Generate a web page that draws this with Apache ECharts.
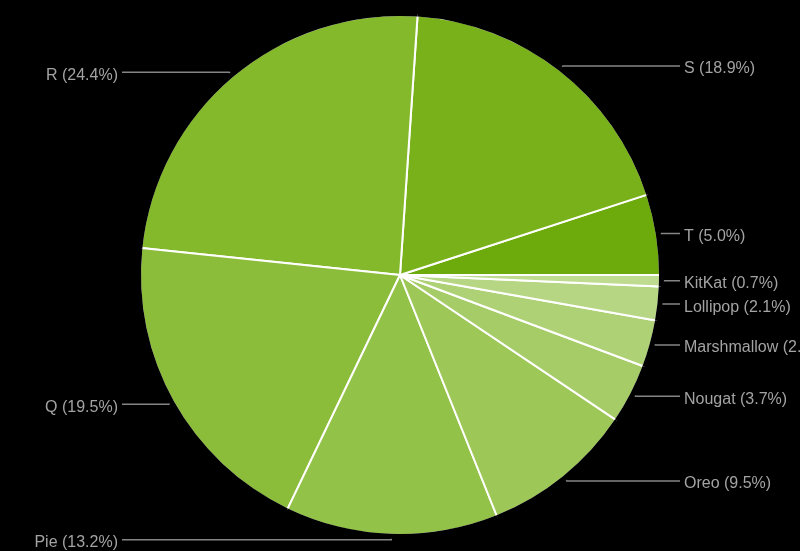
<!DOCTYPE html>
<html>
<head>
<meta charset="utf-8">
<script src="https://cdn.jsdelivr.net/npm/echarts@6/dist/echarts.min.js"></script>
<style>
html,body{margin:0;padding:0;background:#000;}
#chart{width:800px;height:551px;}
</style>
</head>
<body>
<div id="chart"></div>
<script>
var categories = ['T', 'S', 'R', 'Q', 'Pie', 'Oreo', 'Nougat', 'Marshmallow', 'Lollipop', 'KitKat'];
var shares = [5.0, 18.9, 24.4, 19.5, 13.2, 9.5, 3.7, 2.9, 2.1, 0.7];
var sliceColors = ['#6cab0b', '#79b11a', '#84b92c', '#8cbd3a', '#93c248', '#9dc757', '#a6cc67', '#aed175', '#b6d683', '#bedb90'];

var data = categories.map(function (c, i) {
  return { name: c, value: shares[i], itemStyle: { color: sliceColors[i] } };
});
var ring = categories.map(function (c, i) {
  return { name: c, value: shares[i] };
});

var chart = echarts.init(document.getElementById('chart'));
chart.setOption({
  backgroundColor: '#000',
  animation: false,
  series: [{
    type: 'pie',
    center: [400, 275],
    radius: 260,
    startAngle: 0,
    clockwise: false,
    data: data,
    itemStyle: { borderColor: '#ffffff', borderWidth: 2 },
    label: {
      show: true,
      color: '#a3a3a3',
      fontFamily: 'Liberation Sans, Arial, sans-serif',
      fontSize: 16,
      lineHeight: 18,
      width: 220,
      overflow: 'none',
      formatter: function (p) { return p.name + ' (' + p.value.toFixed(1) + '%)'; }
    },
    labelLine: {
      show: true,
      length: 5,
      length2: 10,
      smooth: false,
      lineStyle: { color: '#858585', width: 1.5 }
    },
    labelLayout: function (p) {
      var pts = p.labelLinePoints;
      if (!pts) return {};
      var left = pts[2][0] < pts[0][0];
      var x = left ? 118 : 684;
      var y = pts[2][1];
      return {
        x: x,
        y: y + 3,
        align: left ? 'right' : 'left',
        verticalAlign: 'middle',
        labelLinePoints: [pts[0], pts[1], [left ? x + 4 : x - 4, y]]
      };
    }
  }, {
    type: 'pie',
    center: [400, 275],
    radius: [259, 264],
    startAngle: 0,
    clockwise: false,
    silent: true,
    data: ring,
    itemStyle: { color: '#000', borderWidth: 0 },
    label: { show: false },
    labelLine: { show: false }
  }]
});
</script>
</body>
</html>
